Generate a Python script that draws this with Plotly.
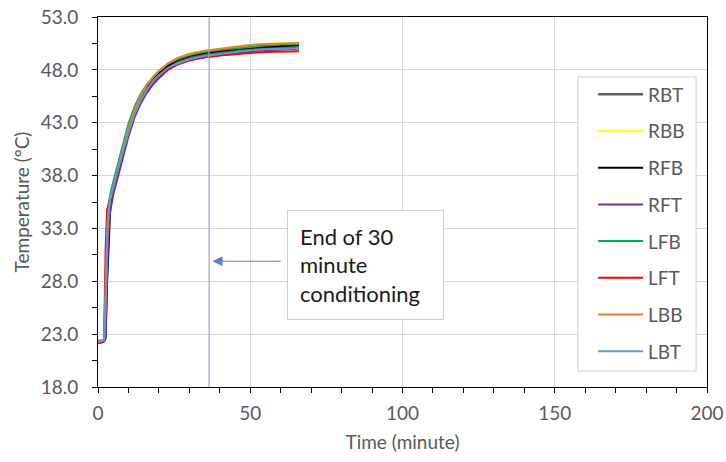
import plotly.graph_objects as go

# ---- data ----
time_min = [0, 1, 2, 2.5, 3, 3.5, 4, 5, 6, 7, 8, 10, 12, 14, 16, 18, 20, 23, 26, 30, 35, 40, 45, 50, 55, 60, 66]

RBT = [22.3, 22.3, 22.4, 25.0, 31.0, 34.0, 35.4, 36.8, 37.9, 39.0, 40.1, 42.3, 44.0, 45.3, 46.2, 47.0, 47.6, 48.3, 48.7, 49.1, 49.4, 49.6, 49.8, 49.95, 50.05, 50.15, 50.2]
RBB = [22.4, 22.4, 22.5, 26.0, 32.0, 34.8, 35.9, 37.2, 38.3, 39.4, 40.5, 42.7, 44.4, 45.6, 46.5, 47.3, 47.9, 48.6, 49.1, 49.5, 49.8, 50.0, 50.2, 50.35, 50.45, 50.55, 50.6]
RFB = [22.2, 22.2, 22.3, 22.6, 28.0, 32.5, 34.8, 36.6, 37.8, 39.0, 40.2, 42.4, 44.1, 45.4, 46.3, 47.1, 47.7, 48.4, 48.9, 49.3, 49.6, 49.8, 49.95, 50.1, 50.2, 50.3, 50.35]
RFT = [22.3, 22.3, 22.4, 23.0, 29.0, 32.8, 34.6, 36.2, 37.3, 38.4, 39.5, 41.7, 43.5, 44.8, 45.8, 46.6, 47.2, 48.0, 48.5, 48.9, 49.2, 49.4, 49.6, 49.75, 49.85, 49.95, 50.0]
LFB = [22.3, 22.3, 22.4, 28.5, 34.0, 35.3, 36.2, 37.4, 38.5, 39.6, 40.7, 42.9, 44.5, 45.7, 46.6, 47.3, 47.9, 48.6, 49.0, 49.4, 49.7, 49.9, 50.05, 50.2, 50.3, 50.4, 50.45]
LFT = [22.2, 22.2, 22.4, 31.0, 34.8, 35.3, 35.9, 36.9, 37.9, 39.0, 40.0, 42.1, 43.8, 45.1, 46.1, 46.8, 47.4, 48.1, 48.5, 48.9, 49.2, 49.35, 49.5, 49.6, 49.7, 49.75, 49.75]
LBB = [22.4, 22.4, 22.5, 25.5, 31.5, 34.5, 35.7, 37.0, 38.1, 39.2, 40.3, 42.5, 44.2, 45.5, 46.5, 47.3, 47.9, 48.6, 49.1, 49.5, 49.8, 50.0, 50.2, 50.35, 50.45, 50.5, 50.55]
LBT = [22.3, 22.3, 22.4, 27.0, 33.0, 35.0, 35.9, 37.0, 38.0, 39.0, 40.0, 42.1, 43.8, 45.1, 46.1, 46.9, 47.5, 48.2, 48.6, 49.0, 49.3, 49.5, 49.7, 49.85, 49.95, 50.0, 50.05]

series_names = ["RBT", "RBB", "RFB", "RFT", "LFB", "LFT", "LBB", "LBT"]
series_values = [RBT, RBB, RFB, RFT, LFB, LFT, LBB, LBT]
series_colors = ["#5f5f5f", "#FFFF00", "#000000", "#7030A0", "#00B050", "#FF0000", "#ED7D31", "#5B9BD5"]

conditioning_end = 36.5
annotation_text = "End of 30<br>minute<br>conditioning"
arrow_tip = (37.6, 29.9)
arrow_tail = (60.5, 29.9)
box_anchor = (62.1, 34.75)

x_ticks = [0, 50, 100, 150, 200]
y_ticks = [18, 23, 28, 33, 38, 43, 48, 53]

FONT = "Lato"
TXT = "#595959"

fig = go.Figure()
for name, vals, col in zip(series_names, series_values, series_colors):
    fig.add_trace(go.Scatter(
        x=time_min, y=vals, mode="lines", name=name,
        line=dict(color=col, width=2.5 if name == "RBT" else 2),
        legendgroup=name,
    ))

fig.add_shape(type="line", xref="x", yref="paper", x0=conditioning_end, x1=conditioning_end,
              y0=0, y1=1, line=dict(color="#8FA8C8", width=1.2), layer="above")

# legend frame
fig.add_shape(type="rect", xref="paper", yref="paper", x0=0.788, x1=0.982, y0=0.043, y1=0.838,
              line=dict(color="#D0D0D0", width=1), fillcolor="white", layer="above")

fig.add_annotation(x=arrow_tip[0], y=arrow_tip[1], ax=arrow_tail[0], ay=arrow_tail[1],
                   axref="x", ayref="y", xref="x", yref="y", text="", showarrow=True,
                   arrowhead=2, arrowsize=2, arrowwidth=1, arrowcolor="#5B7FBF")

fig.add_annotation(x=box_anchor[0], y=box_anchor[1], xref="x", yref="y",
                   xanchor="left", yanchor="top", text=annotation_text, showarrow=False,
                   align="left", font=dict(family=FONT, size=22, color="#1a1a1a"),
                   bgcolor="white", bordercolor="#D0D0D0", borderwidth=1, borderpad=12,
                   width=131, height=84, valign="middle")

fig.update_layout(
    width=726, height=462,
    margin=dict(l=98, r=19, t=17, b=75),
    paper_bgcolor="white", plot_bgcolor="white",
    font=dict(family=FONT, size=19, color=TXT),
    showlegend=True,
    legend=dict(x=0.813, y=0.842, xanchor="left", yanchor="top",
                borderwidth=0, bgcolor="rgba(0,0,0,0)", itemwidth=45,
                font=dict(family=FONT, size=19, color=TXT), tracegroupgap=9),
    xaxis=dict(range=[0, 200], tickvals=x_ticks, ticks="outside", ticklen=5,
               tickcolor="black", showline=True, linecolor="black", mirror=True,
               showgrid=True, gridcolor="#D9D9D9", zeroline=False, automargin=False,
               ticklabelstandoff=4,
               minor=dict(dtick=10, ticks="outside", ticklen=5, tickcolor="black", showgrid=False),
               title=dict(text="Time (minute)", font=dict(size=19, color=TXT), standoff=12),
               tickfont=dict(size=19, color=TXT)),
    yaxis=dict(range=[18, 53], tickvals=y_ticks, tickformat=".1f", ticks="outside", ticklen=5,
               tickcolor="black", showline=True, linecolor="black", mirror=True,
               showgrid=True, gridcolor="#D9D9D9", zeroline=False, automargin=False,
               ticklabelstandoff=10,
               minor=dict(dtick=2.5, tick0=18, ticks="outside", ticklen=5, tickcolor="black", showgrid=False),
               title=dict(text="Temperature (°C)", font=dict(size=19, color=TXT), standoff=6),
               tickfont=dict(size=19, color=TXT)),
)

fig.write_html("out.html")
